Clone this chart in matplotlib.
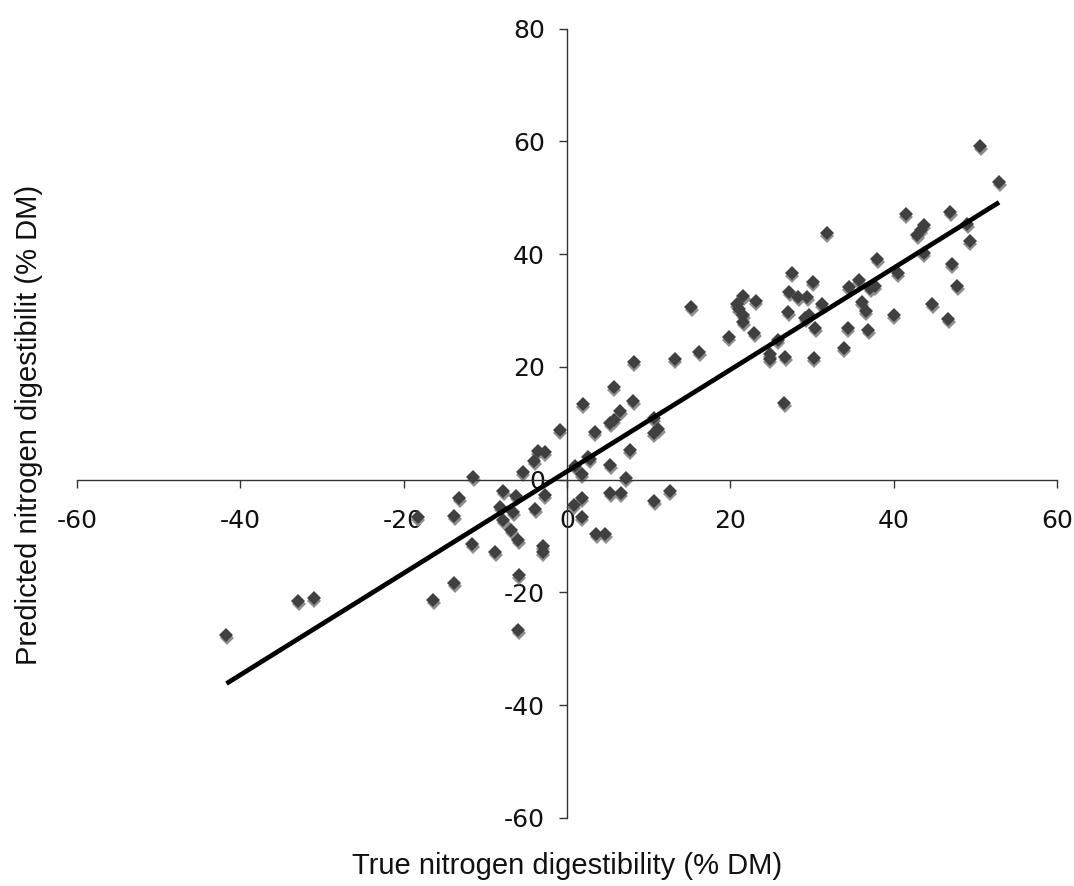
import numpy as np
import matplotlib
matplotlib.use("Agg")
import matplotlib.pyplot as plt
from matplotlib import transforms

# Observed (true) vs. predicted nitrogen digestibility, % DM
true_nd = [
    -41.7, -32.9, -31.0, -18.3, -16.4, -13.8, -13.8, -13.2, -11.5, -11.6,
    -8.8, -7.8, -8.2, -7.8, -6.8, -6.6, -6.2, -6.0, -5.9, -6.0,
    -5.4, -3.9, -4.0, -3.6, -2.7, -2.7, -3.0, -3.0, -0.9, 1.0,
    0.8, 1.8, 1.8, 1.8, 1.9, 3.4, 2.6, 2.8, 3.6, 4.7,
    5.3, 5.7, 6.5, 8.1, 5.3, 5.3, 6.6, 7.7, 7.2, 5.7,
    8.2, 10.6, 10.6, 11.2, 10.7, 12.6, 13.2, 16.2, 15.2, 19.8,
    20.8, 21.0, 21.6, 21.6, 21.6, 23.1, 22.9, 24.8, 24.8, 25.8,
    26.7, 26.6, 27.5, 27.2, 28.3, 29.4, 30.1, 27.1, 29.6, 29.2,
    30.4, 30.2, 31.2, 31.8, 33.9, 34.4, 34.5, 35.7, 36.1, 36.6,
    36.9, 37.1, 37.7, 38.0, 40.0, 40.5, 41.5, 42.9, 43.3, 43.7,
    43.7, 44.7, 46.7, 46.9, 47.1, 47.8, 49.0, 49.3, 50.6, 52.9,
]
predicted_nd = [
    -27.6, -21.5, -21.1, -6.6, -21.4, -18.3, -6.5, -3.2, 0.5, -11.4,
    -12.8, -2.0, -4.8, -7.1, -9.0, -5.7, -3.0, -10.7, -16.9, -26.7,
    1.4, -5.3, 3.3, 5.1, 4.8, -2.7, -11.8, -12.8, 8.8, 2.4,
    -4.5, 1.0, -3.3, -6.6, 13.4, 8.5, 4.0, 3.6, -9.6, -9.6,
    10.0, 10.5, 12.2, 14.0, 2.6, -2.4, -2.4, 5.2, 0.2, 16.5,
    20.9, 10.9, 8.2, 8.9, -3.8, -2.0, 21.4, 22.7, 30.6, 25.3,
    31.2, 30.3, 32.5, 29.2, 28.0, 31.7, 26.0, 22.2, 21.3, 24.7,
    21.8, 13.5, 36.7, 33.2, 32.4, 32.4, 35.1, 29.8, 29.2, 28.6,
    26.8, 21.5, 31.1, 43.8, 23.4, 26.9, 34.2, 35.4, 31.5, 29.9,
    26.5, 33.9, 34.3, 39.2, 29.2, 36.7, 47.1, 43.4, 44.2, 45.1,
    40.2, 31.1, 28.4, 47.5, 38.3, 34.4, 45.4, 42.3, 59.1, 52.8,
]

x_ticks = [-60, -40, -20, 0, 20, 40, 60]
y_ticks = [-60, -40, -20, 0, 20, 40, 60, 80]
x_title = "True nitrogen digestibility (% DM)"
y_title = "Predicted nitrogen digestibilit (% DM)"

x = np.array(true_nd)
y = np.array(predicted_nd)

fig = plt.figure(figsize=(10.74, 8.86), dpi=100)
ax = fig.add_axes([0.0717, 0.0770, 0.9125, 0.8908])
ax.set_xlim(-60, 60)
ax.set_ylim(-60, 80)

# Axes cross at the origin
for side in ("top", "right"):
    ax.spines[side].set_visible(False)
ax.spines["left"].set_position(("data", 0))
ax.spines["bottom"].set_position(("data", 0))
for side in ("left", "bottom"):
    ax.spines[side].set_color("#333333")
    ax.spines[side].set_linewidth(1.0)

ax.set_xticks(x_ticks)
ax.set_yticks(y_ticks)
ax.set_xticklabels([str(v) for v in x_ticks])
ax.set_yticklabels([str(v) for v in y_ticks])
ax.tick_params(axis="x", direction="out", length=6, width=1.0, color="#333333",
               pad=15.5, labelsize=18, labelcolor="#111111")
ax.tick_params(axis="y", direction="out", length=6, width=1.0, color="#333333",
               pad=10, labelsize=18, labelcolor="#111111")
for lab in ax.get_xticklabels() + ax.get_yticklabels():
    lab.set_fontfamily("DejaVu Sans")

# Diamond markers with a soft drop shadow
shadow = transforms.offset_copy(ax.transData, fig=fig, x=0.5, y=-3, units="dots")
ax.plot(x, y, linestyle="none", marker="D", markersize=7.2,
        color="#8e8e8e", markeredgewidth=0, transform=shadow, zorder=2,
        clip_on=False)
ax.plot(x, y, linestyle="none", marker="D", markersize=7.2,
        color="#404040", markeredgewidth=0, zorder=3, clip_on=False)

# Linear least-squares trend line across the data range
slope, intercept = np.polyfit(x, y, 1)
xs = np.array([x.min(), x.max()])
ax.plot(xs, slope * xs + intercept, color="black", linewidth=3.4, zorder=4,
        solid_capstyle="butt")

fig.text(0.528, 0.0226, x_title, ha="center", va="center",
         fontsize=21, family="Liberation Sans", color="#111111")
fig.text(0.027, 0.52, y_title, ha="center", va="center", rotation=90,
         fontsize=21, family="Liberation Sans", color="#111111")

fig.savefig("out.png", dpi=100, facecolor="white")
